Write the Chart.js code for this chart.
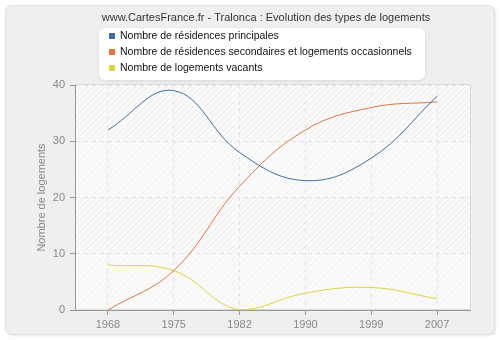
<!DOCTYPE html>
<html>
<head>
<meta charset="utf-8">
<script src="https://cdn.jsdelivr.net/npm/chart.js@4.4.1/dist/chart.umd.min.js"></script>
<style>
  html, body { margin: 0; padding: 0; background: #fff; }
</style>
</head>
<body>
<canvas id="chart" width="500" height="340"></canvas>
<script>
const years = ['1968', '1975', '1982', '1990', '1999', '2007'];
const principales = [32, 39, 28, 23, 27, 38];
const secondaires = [0, 7, 22, 32, 36, 37];
const vacants = [8, 7, 0, 3, 4, 2];
const seriesNames = [
  'Nombre de résidences principales',
  'Nombre de résidences secondaires et logements occasionnels',
  'Nombre de logements vacants'
];
const seriesColors = ['#3f6fa5', '#e8733f', '#ddd43a'];
const chartTitle = 'www.CartesFrance.fr - Tralonca : Evolution des types de logements';
const yTitle = 'Nombre de logements';

const FONT = '"Liberation Sans", Arial, sans-serif';

function roundRect(ctx, x, y, w, h, r) {
  ctx.beginPath();
  ctx.moveTo(x + r, y);
  ctx.arcTo(x + w, y, x + w, y + h, r);
  ctx.arcTo(x + w, y + h, x, y + h, r);
  ctx.arcTo(x, y + h, x, y, r);
  ctx.arcTo(x, y, x + w, y, r);
  ctx.closePath();
}

function makeHatch(lineColor) {
  const c = document.createElement('canvas');
  c.width = 6; c.height = 6;
  const g = c.getContext('2d');
  g.fillStyle = '#fafafa';
  g.fillRect(0, 0, 6, 6);
  g.strokeStyle = lineColor;
  g.lineWidth = 1;
  g.beginPath();
  g.moveTo(-1, 7); g.lineTo(7, -1);
  g.moveTo(-1, 1); g.lineTo(1, -1);
  g.moveTo(5, 7); g.lineTo(7, 5);
  g.stroke();
  return c;
}

// panel, plot background, title and legend
const decor = {
  id: 'decor',
  beforeDraw(chart) {
    const ctx = chart.ctx;
    const a = chart.chartArea;
    ctx.save();
    ctx.fillStyle = '#fff';
    ctx.fillRect(0, 0, chart.width, chart.height);
    ctx.shadowColor = 'rgba(0,0,0,0.12)';
    ctx.shadowBlur = 3;
    ctx.shadowOffsetX = 1;
    ctx.shadowOffsetY = 1;
    roundRect(ctx, 5.5, 5.5, 489, 329, 6);
    ctx.fillStyle = '#efefef';
    ctx.fill();
    ctx.shadowColor = 'transparent';
    ctx.strokeStyle = '#e2e2e2';
    ctx.lineWidth = 1;
    ctx.stroke();

    // plot area with hatching, alternating bands
    const y = chart.scales.y;
    const dark = ctx.createPattern(makeHatch('#ececec'), 'repeat');
    const light = ctx.createPattern(makeHatch('#f3f3f3'), 'repeat');
    for (let v = 0; v < 40; v += 10) {
      const top = y.getPixelForValue(v + 10);
      const bot = y.getPixelForValue(v);
      ctx.fillStyle = (v / 10) % 2 === 1 ? dark : light;
      ctx.fillRect(a.left, top, a.right - a.left, bot - top);
    }
    ctx.strokeStyle = '#dcdcdc';
    ctx.strokeRect(a.left + 0.5, a.top - 0.5, a.right - a.left, a.bottom - a.top);
    ctx.restore();
  },
  afterDraw(chart) {
    const ctx = chart.ctx;
    ctx.save();
    ctx.font = '11px ' + FONT;
    ctx.fillStyle = '#333';
    ctx.textAlign = 'center';
    ctx.textBaseline = 'middle';
    ctx.fillText(chartTitle, 266, 18);

    // legend box
    ctx.shadowColor = 'rgba(0,0,0,0.1)';
    ctx.shadowBlur = 3;
    ctx.shadowOffsetY = 1;
    roundRect(ctx, 99, 28, 326, 52, 6);
    ctx.fillStyle = '#fff';
    ctx.fill();
    ctx.shadowColor = 'transparent';
    ctx.textAlign = 'left';
    ctx.font = '10.5px ' + FONT;
    chart.data.datasets.forEach((ds, i) => {
      const cy = 36 + i * 16;
      ctx.fillStyle = ds.borderColor;
      ctx.fillRect(109, cy - 3, 6, 6);
      ctx.fillStyle = '#111';
      ctx.fillText(ds.label, 120, cy + 0.5);
    });
    ctx.restore();
  }
};

new Chart(document.getElementById('chart'), {
  type: 'line',
  data: {
    labels: years,
    datasets: [principales, secondaires, vacants].map((values, i) => ({
      label: seriesNames[i],
      data: values,
      borderColor: seriesColors[i],
      backgroundColor: seriesColors[i],
      borderWidth: 1,
      pointRadius: 0,
      tension: 0.4,
      fill: false
    }))
  },
  options: {
    responsive: false,
    animation: false,
    devicePixelRatio: 1,
    layout: { padding: { left: 0, top: 85, right: 30, bottom: 0 } },
    plugins: {
      legend: { display: false },
      title: { display: false },
      tooltip: { enabled: false }
    },
    scales: {
      x: {
        type: 'category',
        offset: true,
        afterFit(scale) { scale.height = 30; },
        grid: {
          offset: false,
          color: '#e3e3e3',
          tickLength: 5,
          tickColor: '#999',
          tickBorderDash: []
        },
        border: { color: '#999', dash: [4, 4] },
        ticks: { color: '#888', padding: 3, font: { size: 11, family: FONT } }
      },
      y: {
        min: 0,
        max: 40,
        afterFit(scale) { scale.width = 75; },
        grid: {
          color: '#e3e3e3',
          tickLength: 5,
          tickColor: '#999',
          tickBorderDash: []
        },
        border: { color: '#999', dash: [4, 4] },
        ticks: { stepSize: 10, color: '#888', padding: 5, font: { size: 11, family: FONT } },
        title: {
          display: true,
          text: yTitle,
          color: '#888',
          padding: { top: 35, bottom: 0 },
          font: { size: 11, family: FONT }
        }
      }
    }
  },
  plugins: [decor]
});
</script>
</body>
</html>
